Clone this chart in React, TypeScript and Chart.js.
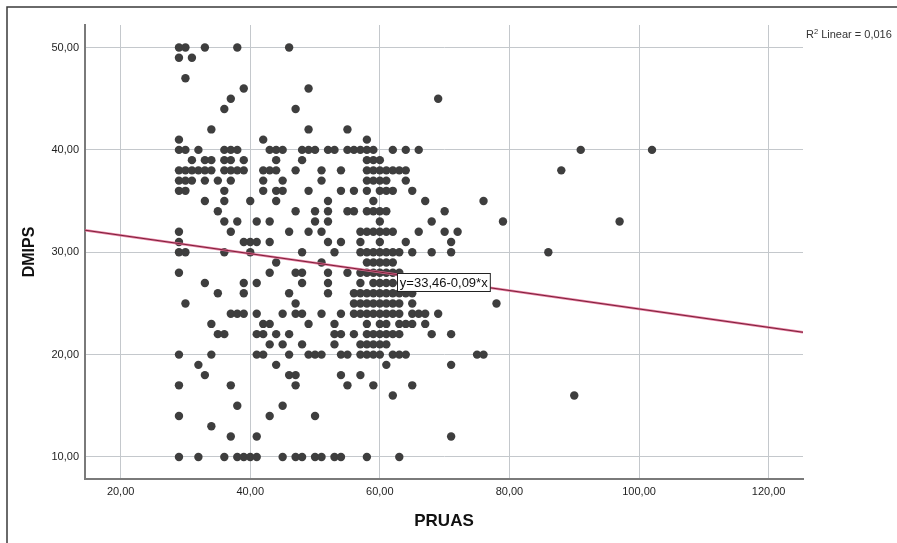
import React, { useEffect, useRef } from 'react';
import { Chart, registerables } from 'chart.js';

Chart.register(...registerables);

// DMIPS levels (y) and the PRUAS values (x) of the points drawn at each level
const dmipsLevels = [50, 49, 47, 46, 45, 44, 42, 41, 40, 39, 38, 37, 36, 35, 34, 33, 32, 31, 30, 29, 28, 27, 26, 25, 24, 23, 22, 21, 20, 19, 18, 17, 16, 15, 14, 13, 12, 10];
const pruasByLevel: number[][] = [
  [29, 30, 33, 38, 46],
  [29, 31],
  [30],
  [39, 49],
  [37, 69],
  [36, 47],
  [34, 49, 55],
  [29, 42, 58],
  [29, 30, 32, 36, 37, 38, 43, 44, 45, 48, 49, 50, 52, 53, 55, 56, 57, 58, 59, 62, 64, 66, 91, 102],
  [31, 33, 34, 36, 37, 39, 44, 48, 58, 59, 60],
  [29, 30, 31, 32, 33, 34, 36, 37, 38, 39, 42, 43, 44, 47, 51, 54, 58, 59, 60, 61, 62, 63, 64, 88],
  [29, 30, 31, 33, 35, 37, 42, 45, 51, 58, 59, 60, 61, 64],
  [29, 30, 36, 42, 44, 45, 49, 54, 56, 58, 60, 61, 62, 65],
  [33, 36, 40, 44, 52, 59, 67, 76],
  [35, 47, 50, 52, 55, 56, 58, 59, 60, 61, 70],
  [36, 38, 41, 43, 50, 52, 60, 68, 79, 97],
  [29, 37, 46, 49, 51, 57, 58, 59, 60, 61, 62, 66, 70, 72],
  [29, 39, 40, 41, 43, 52, 54, 57, 60, 64, 71],
  [29, 30, 36, 40, 48, 53, 57, 58, 59, 60, 61, 62, 63, 65, 68, 71, 86],
  [44, 51, 58, 59, 60, 61, 62],
  [29, 43, 47, 48, 52, 55, 57, 58, 59, 60, 61, 62, 63],
  [33, 39, 41, 48, 52, 57, 59, 60, 61, 62, 64],
  [35, 39, 46, 52, 56, 57, 58, 59, 60, 61, 62, 63, 64, 65],
  [30, 47, 56, 57, 58, 59, 60, 61, 62, 63, 65, 78],
  [37, 38, 39, 41, 45, 47, 48, 51, 54, 56, 57, 58, 59, 60, 61, 62, 63, 65, 66, 67, 69],
  [34, 42, 43, 49, 53, 58, 60, 61, 63, 64, 65, 67],
  [35, 36, 41, 42, 44, 46, 53, 54, 56, 58, 59, 60, 61, 62, 63, 68, 71],
  [43, 45, 48, 53, 57, 58, 59, 60, 61],
  [29, 34, 41, 42, 46, 49, 50, 51, 54, 55, 57, 58, 59, 60, 62, 63, 64, 75, 76],
  [32, 44, 61, 71],
  [33, 46, 47, 54, 57],
  [29, 37, 47, 55, 59, 65],
  [62, 90],
  [38, 45],
  [29, 43, 50],
  [34],
  [37, 41, 71],
  [29, 32, 36, 38, 39, 40, 41, 45, 47, 48, 50, 51, 53, 54, 58, 63],
];

const xTicks = [20, 40, 60, 80, 100, 120];
const yTicks = [10, 20, 30, 40, 50];
const xRange = [14.5, 125.3];
const yRange = [7.85, 52.2];

const fitIntercept = 33.46;
const fitSlope = -0.09;
const fitLabel = 'y=33,46-0,09*x';
const fitLabelAt = [62.7, 27.1];
const r2Label = '0,016';

const fmt = (v: number) => v.toFixed(2).replace('.', ',');

export default function App() {
  const ref = useRef<HTMLCanvasElement | null>(null);

  useEffect(() => {
    if (!ref.current) return;
    const points: { x: number; y: number }[] = [];
    dmipsLevels.forEach((y, i) => pruasByLevel[i].forEach((x) => points.push({ x, y })));
    const fitLine = xRange.map((x) => ({ x, y: fitIntercept + fitSlope * x }));

    const decor = {
      id: 'decor',
      beforeDraw(chart: any) {
        const c = chart.ctx;
        c.save();
        c.fillStyle = '#ffffff';
        c.fillRect(0, 0, chart.width, chart.height);
        c.strokeStyle = '#3a3a3a';
        c.lineWidth = 1.5;
        c.beginPath();
        c.moveTo(7, chart.height + 5);
        c.lineTo(7, 7);
        c.lineTo(chart.width + 5, 7);
        c.stroke();
        c.restore();
      },
      afterDatasetsDraw(chart: any) {
        const c = chart.ctx;
        const xs = chart.scales.x;
        const ys = chart.scales.y;
        c.save();
        // equation label
        c.font = '13px "Liberation Sans", Arial, sans-serif';
        const tw = c.measureText(fitLabel).width;
        const bx = xs.getPixelForValue(fitLabelAt[0]);
        const by = ys.getPixelForValue(fitLabelAt[1]);
        const bw = tw + 5;
        const bh = 18;
        c.fillStyle = '#ffffff';
        c.fillRect(bx, by - bh / 2, bw, bh);
        c.strokeStyle = '#222';
        c.lineWidth = 1;
        c.strokeRect(Math.round(bx) + 0.5, Math.round(by - bh / 2) + 0.5, bw, bh);
        c.fillStyle = '#111';
        c.textBaseline = 'middle';
        c.textAlign = 'left';
        c.fillText(fitLabel, bx + 2.5, by + 1);
        // R² label
        const ca = chart.chartArea;
        let tx = ca.right + 3;
        const ty = ca.top + 13;
        c.fillStyle = '#333';
        c.textBaseline = 'alphabetic';
        c.font = '11px "Liberation Sans", Arial, sans-serif';
        c.fillText('R', tx, ty);
        tx += c.measureText('R').width;
        c.font = '7.5px "Liberation Sans", Arial, sans-serif';
        c.fillText('2', tx, ty - 4.5);
        tx += c.measureText('2').width;
        c.font = '11px "Liberation Sans", Arial, sans-serif';
        c.fillText(' Linear = ' + r2Label, tx, ty);
        c.restore();
      },
    };

    const chart = new Chart(ref.current, {
      type: 'scatter',
      data: {
        datasets: [
          {
            type: 'line',
            data: fitLine,
            borderColor: '#7a2038',
            borderWidth: 1,
            pointRadius: 0,
            fill: false,
          } as any,
          {
            type: 'line',
            data: fitLine,
            borderColor: 'rgba(228,110,150,0.9)',
            borderWidth: 2.6,
            pointRadius: 0,
            fill: false,
          } as any,
          {
            data: points,
            backgroundColor: '#3e3e3e',
            borderColor: '#3e3e3e',
            borderWidth: 0,
            pointRadius: 4.2,
            pointHoverRadius: 4.2,
          },
        ],
      },
      options: {
        responsive: false,
        animation: false,
        events: [],
        layout: { padding: { left: 0, top: 25, right: 94, bottom: 0 } },
        plugins: { legend: { display: false }, tooltip: { enabled: false } },
        scales: {
          x: {
            type: 'linear',
            min: xRange[0],
            max: xRange[1],
            afterBuildTicks: (s: any) => { s.ticks = xTicks.map((v) => ({ value: v })); },
            afterFit: (s: any) => { s.height = 64; },
            grid: { color: '#c4c8cc', lineWidth: 1, drawTicks: false },
            border: { color: '#7a7a7a', width: 2 },
            ticks: {
              padding: 6,
              color: '#1e1e1e',
              font: { family: '"Liberation Sans", Arial, sans-serif', size: 11 },
              callback: (v: any) => fmt(Number(v)),
              maxRotation: 0,
            },
            title: {
              display: true,
              text: 'PRUAS',
              color: '#111',
              font: { family: '"Liberation Sans", Arial, sans-serif', size: 17, weight: 'bold' },
              padding: { top: 0, bottom: 11 },
            },
          },
          y: {
            type: 'linear',
            min: yRange[0],
            max: yRange[1],
            afterBuildTicks: (s: any) => { s.ticks = yTicks.map((v) => ({ value: v })); },
            afterFit: (s: any) => { s.width = 85; },
            grid: { color: '#c4c8cc', lineWidth: 1, drawTicks: false },
            border: { color: '#7a7a7a', width: 2 },
            ticks: {
              padding: 6,
              color: '#1e1e1e',
              font: { family: '"Liberation Sans", Arial, sans-serif', size: 11 },
              callback: (v: any) => fmt(Number(v)),
            },
            title: {
              display: true,
              text: 'DMIPS',
              color: '#111',
              font: { family: '"Liberation Sans", Arial, sans-serif', size: 16, weight: 'bold' },
              padding: { top: 20, bottom: 0 },
            },
          },
        },
      },
      plugins: [decor],
    } as any);

    return () => chart.destroy();
  }, []);

  return (
    <div style={{ position: 'absolute', left: 0, top: 0, width: 897, height: 543 }}>
      <canvas ref={ref} width={897} height={543} style={{ display: 'block' }} />
    </div>
  );
}
